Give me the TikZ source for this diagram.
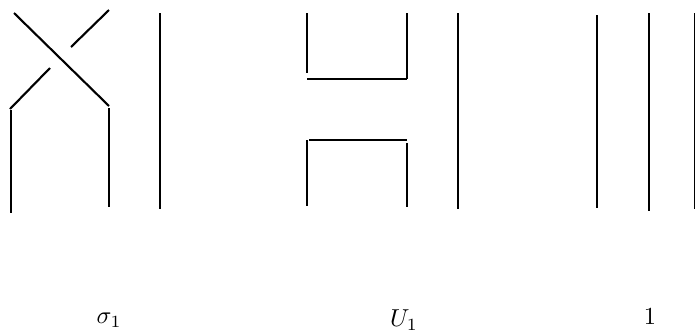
\documentclass[tikz,border=0pt]{standalone}
\tikzset{
  strand/.style={line width=2.1pt},
  legend/.style={scale=2.45}
}
\begin{document}
\begin{tikzpicture}[x=1pt,y=-1pt]
  \useasboundingbox (0,0) rectangle (695,333);

  % Le croisement
  \draw[strand] (14,13) -- (109,106);
  \draw[strand] (109,10) -- (71,47);
  \draw[strand] (50,68) -- (10,109);
  \draw[strand] (11,110) -- (11,213);
  \draw[strand] (109,108) -- (109,207);
  \draw[strand] (160,13) -- (160,209);

  % Les deux coupes
  \draw[strand] (307,13) -- (307,73);
  \draw[strand] (407,13) -- (407,79);
  \draw[strand] (307,79) -- (407,79);
  \draw[strand] (309,140) -- (407,140);
  \draw[strand] (307,140) -- (307,206);
  \draw[strand] (407,143) -- (407,207);
  \draw[strand] (458,13) -- (458,209);

  % Les brins droits
  \draw[strand] (597,15) -- (597,208);
  \draw[strand] (649,13) -- (649,211);
  \draw[strand] (694.6,13) -- (694.6,209);

  % Les lettres
  \node[legend] (sigmaone) at (109,320) {$\sigma_1$};
  \node[legend] (uone) at (404,320) {$U_1$};
  \node[legend] (unit) at (650,317) {$1$};
\end{tikzpicture}
\end{document}
